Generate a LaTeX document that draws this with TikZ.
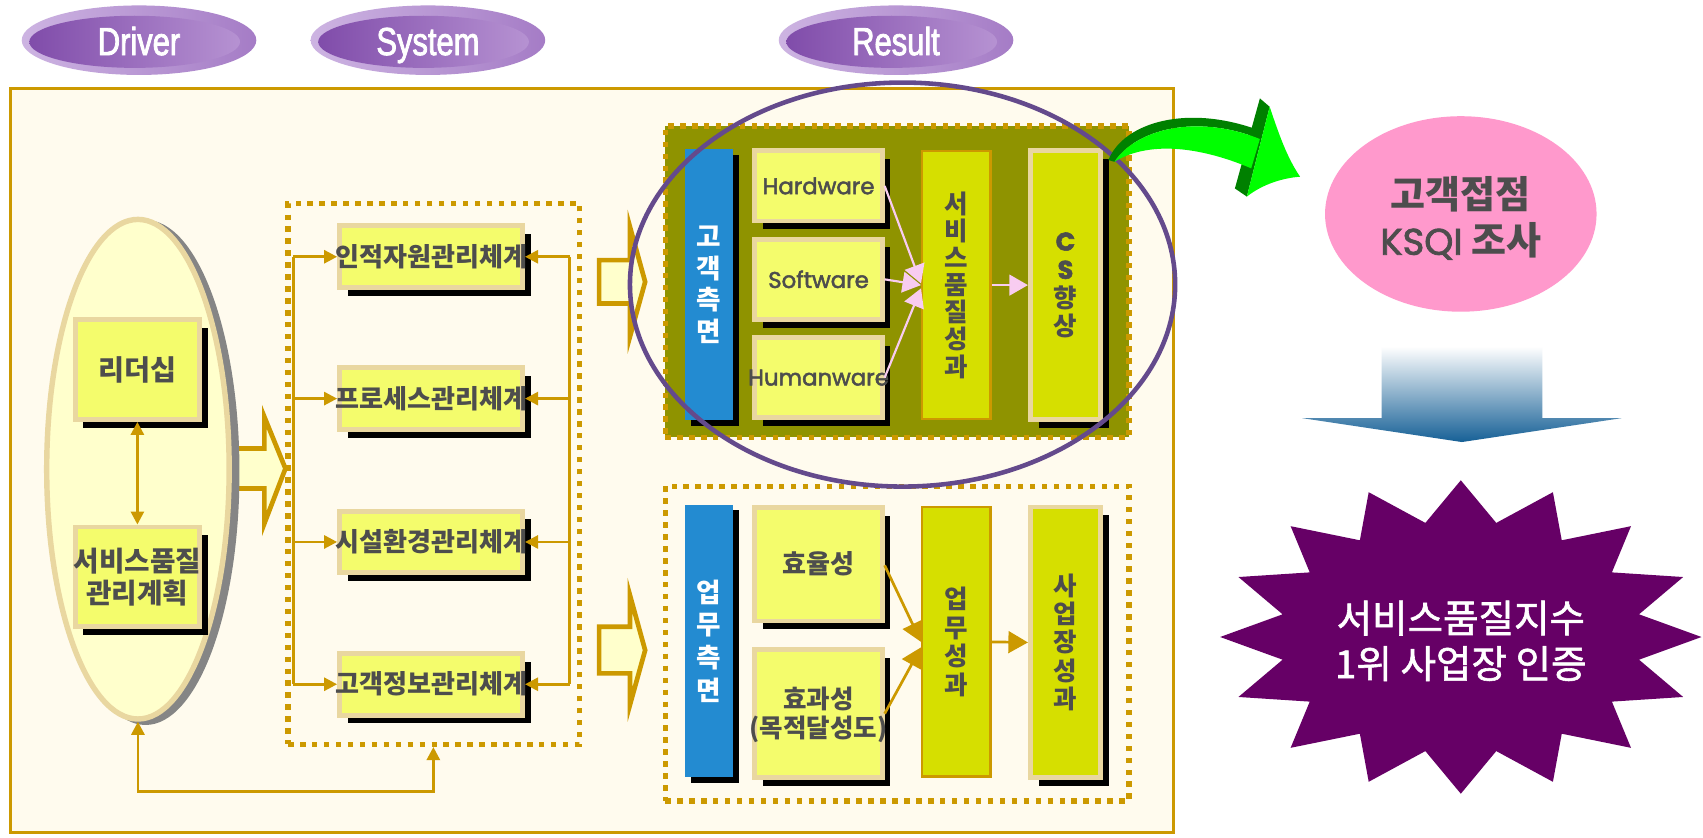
\documentclass[tikz,border=0pt]{standalone}
\usepackage{fontspec}
\newfontfamily\kr{Noto Sans CJK KR}
\newfontfamily\krm{Noto Sans CJK KR}[FakeBold=1.5]
\newfontfamily\gothic{Poppins}[FakeBold=2.2]
\newfontfamily\narrowsans{Liberation Sans}[FakeStretch=0.79,FakeBold=2]
\usetikzlibrary{shapes.geometric,arrows.meta,shadows,calc}
\newcommand\krbs[2]{\kr\bfseries\fontsize{#1}{#2}\selectfont}
\newcommand\krrs[2]{\krm\fontsize{#1}{#2}\selectfont}
\newcommand\gths[2]{\gothic\fontsize{#1}{#2}\selectfont}
\definecolor{gold}{RGB}{204,153,0}
\definecolor{cream}{RGB}{255,251,238}
\definecolor{tanb}{RGB}{233,215,160}
\definecolor{lemon}{RGB}{255,255,204}
\definecolor{boxy}{RGB}{244,252,108}
\definecolor{olive}{RGB}{143,147,0}
\definecolor{lime}{RGB}{214,223,0}
\definecolor{barblue}{RGB}{35,139,209}
\definecolor{ringpurple}{RGB}{100,74,140}
\definecolor{txtgray}{RGB}{77,77,77}
\definecolor{pinkfill}{RGB}{255,153,204}
\definecolor{starpurple}{RGB}{102,0,102}
\definecolor{pinkarrow}{RGB}{248,204,240}
\definecolor{brightgreen}{RGB}{0,255,0}
\definecolor{darkgreen}{RGB}{0,128,0}
\definecolor{arrowblue}{RGB}{22,96,150}
\definecolor{lavlight}{RGB}{205,180,226}
\definecolor{lavring}{RGB}{165,124,198}
\definecolor{lavdark}{RGB}{128,76,170}
\definecolor{lavmid}{RGB}{182,146,210}
\definecolor{shadowgray}{RGB}{133,133,133}
\begin{document}
\begin{tikzpicture}[x=1pt,y=-1pt,
  ybox/.style={draw=tanb,line width=4.5pt,fill=boxy,inner sep=0pt,
    drop shadow={shadow xshift=7.5pt,shadow yshift=-7.5pt,fill=black,opacity=1}},
  csbar/.style={draw=tanb,line width=4.5pt,fill=lime,inner sep=0pt,
    drop shadow={shadow xshift=7.5pt,shadow yshift=-7.5pt,fill=black,opacity=1}},
  limebar/.style={draw=gold,line width=2pt,fill=lime,inner sep=0pt},
  bluebar/.style={fill=barblue,inner sep=0pt,
    drop shadow={shadow xshift=5pt,shadow yshift=-5pt,fill=black,opacity=1}},
  dotbox/.style={draw=gold,line width=5pt,dash pattern=on 5pt off 6pt,inner sep=0pt},
  hollow/.style={draw=gold,line width=4.3pt,fill=lemon},
  gline/.style={draw=gold,line width=2.5pt},
  garrow/.style={draw=gold,line width=2.5pt,-{Triangle[length=12pt,width=12pt]}},
  gbig/.style={draw=gold,line width=2.5pt,-{Triangle[length=18pt,width=20pt]}},
  parrow/.style={draw=pinkarrow,line width=2pt,-{Triangle[length=17pt,width=19pt]}},
  btxt/.style={text=txtgray,inner sep=0pt,align=center},
  tagtxt/.style={text=white,font=\narrowsans\fontsize{36}{36}\selectfont,anchor=base,inner sep=0pt}
]
\useasboundingbox (0,0) rectangle (1568,771);
\fill[white] (0,0) rectangle (1568,771);

% main frame
\node[draw=gold,line width=2.8pt,fill=cream,minimum width=1071.2pt,minimum height=685.2pt,inner sep=0pt] (frame) at (545,424) {};

% top tags
\foreach \cx/\lab in {128/Driver,394/System,825/Result}{
  \shade[left color=lavlight,right color=lavring] (\cx,37) ellipse [x radius=108,y radius=32];
  \shade[left color=lavdark,right color=lavmid] (\cx-4,38.5) ellipse [x radius=97,y radius=24];
  \node[tagtxt] (tag\lab) at (\cx,50.7) {\lab};
}

% Driver ellipse
\draw[hollow] (200,413) -- (243.4,413) -- (243.4,383.8) -- (262.8,431.4) -- (243.4,482) -- (243.4,449.8) -- (200,449.8) -- cycle;
\node[ellipse,fill=shadowgray,minimum width=173pt,minimum height=465pt,inner sep=0pt] (drvshadow) at (134,435) {};
\node[ellipse,draw=tanb,fill=lemon,line width=5pt,minimum width=168pt,minimum height=460pt,inner sep=0pt] (drv) at (127,432) {};
\node[ybox,minimum width=114.5pt,minimum height=92pt] (lead) at (126.5,340.2) {};
\node[btxt,font=\krbs{26}{30}] at (lead) {리더십};
\node[ybox,minimum width=114.5pt,minimum height=92pt] (plan) at (126.5,531.2) {};
\node[btxt,font=\krbs{25.5}{30}] at (plan) {서비스품질\\관리계획};
\draw[gline,{Triangle[length=12pt,width=12pt]}-{Triangle[length=12pt,width=12pt]}] (lead.south) -- (plan.north);

% System group
\node[dotbox,minimum width=268.4pt,minimum height=498pt] (sysg) at (399.5,436.3) {};
\foreach \i/\yy/\t in {1/236.4/인적자원관리체계,2/367/프로세스관리체계,3/499/시설환경관리체계,4/630/고객정보관리체계}{
  \node[ybox,minimum width=168.5pt,minimum height=56.8pt] (s\i) at (396.9,\yy) {};
  \node[btxt,font=\krbs{24}{28}] at (s\i) {\t};
  \coordinate (l\i) at (270,\yy);
  \coordinate (r\i) at (524.6,\yy);
}
\draw[gline] (l1) -- (l4);
\draw[gline] (r1) -- (r4);
\foreach \i in {1,...,4}{
  \draw[garrow] (l\i) -- (s\i.west);
  \draw[garrow] (r\i) -- (s\i.east);
}
\coordinate (b1) at (127,729);
\coordinate (b2) at (399,729);
\draw[gline,{Triangle[length=12pt,width=12pt]}-{Triangle[length=12pt,width=12pt]}] (drv.south) -- (b1) -- (b2) -- (b2 |- sysg.south);

% hollow arrows into results
\draw[hollow] (551.6,239.5) -- (580,239.5) -- (580,208.8) -- (594,259.5) -- (580,310) -- (580,279.4) -- (551.6,279.4) -- cycle;
\draw[hollow] (551.6,577) -- (580,577) -- (580,548) -- (594,598.7) -- (580,649) -- (580,620) -- (551.6,620) -- cycle;

% upper result group
\node[dotbox,fill=olive,minimum width=427pt,minimum height=286.7pt] (upg) at (826,259.45) {};
\node[bluebar,minimum width=44pt,minimum height=249.4pt] (cust) at (653,262.2) {};
\node[text=white,inner sep=0pt,align=center,font=\krbs{24.5}{29}] at (cust) {고\\객\\측\\면};
\node[ybox,minimum width=117.2pt,minimum height=64.6pt] (hw) at (753.65,171.15) {};
\node[btxt,font=\gths{21}{26}] at (hw) {Hardware};
\node[ybox,minimum width=117.2pt,minimum height=73.8pt] (sw) at (753.65,257.2) {};
\node[btxt,font=\gths{21}{26}] at (sw) {Software};
\node[ybox,minimum width=117.2pt,minimum height=73.8pt] (hu) at (753.65,347.7) {};
\node[btxt,font=\gths{21}{26}] at (hu) {Humanware};
\node[limebar,minimum width=63pt,minimum height=247pt] (svc) at (880.5,262.5) {};
\node[btxt,font=\krbs{23.5}{25}] at (svc) {서\\비\\스\\품\\질\\성\\과};
\node[csbar,minimum width=64.6pt,minimum height=247.3pt] (cs) at (981,262.5) {};
\node[btxt,font=\krbs{23.5}{26}] at (cs) {{\gothic C}\\{\gothic S}\\향\\상};
\draw[parrow] (hw.east) -- ([yshift=1.5pt]svc.west);
\draw[parrow] (sw.east) -- (svc.west);
\draw[parrow] (hu.east) -- ([yshift=-3pt]svc.west);
\draw[parrow] (svc.east) -- (cs.west);

% lower result group
\node[dotbox,minimum width=427pt,minimum height=289.8pt] (lowg) at (826,592.6) {};
\node[bluebar,minimum width=44pt,minimum height=250.5pt] (task) at (653,590.25) {};
\node[text=white,inner sep=0pt,align=center,font=\krbs{24.5}{30}] at (task) {업\\무\\측\\면};
\node[ybox,minimum width=117.2pt,minimum height=104.5pt] (eff) at (753.65,519.5) {};
\node[btxt,font=\krbs{24}{26}] at (eff) {효율성};
\node[ybox,minimum width=117.2pt,minimum height=118.3pt] (effc) at (753.65,657.1) {};
\node[btxt,font=\krbs{23.5}{27}] at ([yshift=-1pt]effc.center) {효과성\\(목적달성도)};
\node[limebar,minimum width=63pt,minimum height=248pt] (work) at (880.5,591) {};
\node[btxt,font=\krbs{23.5}{26.5}] at (work) {업\\무\\성\\과};
\node[csbar,minimum width=64.6pt,minimum height=249.4pt] (biz) at (981,591.5) {};
\node[btxt,font=\krbs{23.5}{26}] at (biz) {사\\업\\장\\성\\과};
\draw[gbig] ([yshift=-1pt]eff.east) -- (work.west);
\draw[gbig] (effc.east) -- ([yshift=-5pt]work.west);
\draw[gbig] (work.east) -- (biz.west);

% purple ring
\node[ellipse,draw=ringpurple,line width=4.2pt,minimum width=502pt,minimum height=372pt,inner sep=0pt] (ring) at (831,262) {};

% green curved arrow
\fill[darkgreen] (1160,90.6) -- (1169,98.3) -- (1148,181) -- (1137,173.5) -- cycle;
\fill[darkgreen] (1020.5,147.3) .. controls (1035,112) and (1095,95) .. (1162,121) -- (1160,128) .. controls (1100,104) and (1045,120) .. (1026,149) -- cycle;
\fill[brightgreen] (1026,149) .. controls (1045,120) and (1100,104) .. (1160,128) -- (1152,155) .. controls (1110,137) and (1060,128) .. (1026,149) -- cycle;
\fill[brightgreen] (1169,98.3) .. controls (1178,125) and (1185,145) .. (1197,162.7) .. controls (1180,164) and (1162,170) .. (1148,181) -- cycle;

% KSQI ellipse
\node[ellipse,fill=pinkfill,minimum width=250pt,minimum height=180pt,inner sep=0pt] (ksqi) at (1345,197) {};
\node[btxt,font=\krbs{35}{43}] at (1345,200.5) {고객접점\\{\gothic\mdseries\fontsize{34}{43}\selectfont KSQI} 조사};

% gradient down arrow
\shade[top color=white,bottom color=arrowblue] (1272,319) -- (1420,319) -- (1420,385) -- (1493,385) -- (1346,407) -- (1199,385) -- (1272,385) -- cycle;

% star
\fill[starpurple] ({1345+221.6},586.5) \foreach \k in {0,...,15}{ -- ({1345+167.3*cos(22.5*\k+11.25)},{586.5+107.1*sin(22.5*\k+11.25)}) -- ({1345+221.6*cos(22.5*(\k+1))},{586.5+144.3*sin(22.5*(\k+1))}) } -- cycle;
\node[text=white,inner sep=0pt,align=center,font=\krrs{35.5}{42}] (award) at (1345,590) {서비스품질지수\\1위 사업장 인증};
\end{tikzpicture}
\end{document}
